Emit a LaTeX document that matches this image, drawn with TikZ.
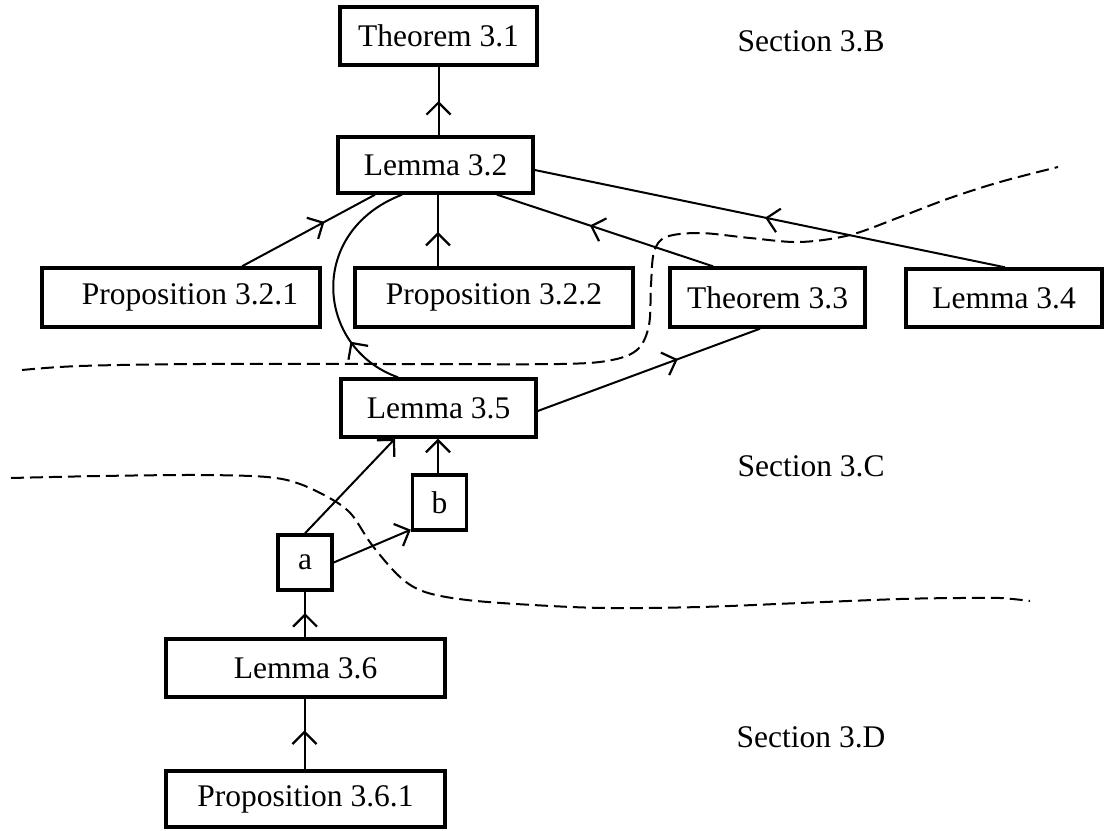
\documentclass[tikz,border=0pt]{standalone}
\usepackage{fontspec}
\setmainfont{Liberation Serif}
\usetikzlibrary{arrows.meta,calc,decorations.markings}
\begin{document}
\begin{tikzpicture}[x=0.5pt,y=-0.5pt,
  box/.style={draw, line width=1.7pt, inner sep=0pt, font=\fontsize{15.75}{18}\selectfont},
  lbl/.style={inner sep=0pt, font=\fontsize{15.75}{18}\selectfont},
  conn/.style={line width=1pt},
  barb/.tip={Straight Barb[length=6pt,width=12pt,line width=1.1pt]},
  midarrow/.style={conn, postaction={decorate, decoration={markings, mark=at position #1 with {\arrow{barb}}}}},
  endarrow/.style={conn, -barb},
  sep/.style={line width=1pt, dash pattern=on 6.5pt off 3pt}
]
\useasboundingbox (0,0) rectangle (1107,830);

% nodes
\node[box, minimum width=98.5pt, minimum height=29pt] (T31) at (438.5,36) {Theorem 3.1};
\node[box, minimum width=97.5pt, minimum height=28pt] (L32) at (435.5,165) {Lemma 3.2};
\node[box, minimum width=139pt, minimum height=29.5pt] (P321) at (181,297.5) {\hspace*{9pt}Proposition 3.2.1};
\node[box, minimum width=139pt, minimum height=29.5pt] (P322) at (494,297.5) {Proposition 3.2.2};
\node[box, minimum width=97.5pt, minimum height=29.5pt] (T33) at (767.5,297.5) {Theorem 3.3};
\node[box, minimum width=98pt, minimum height=29pt] (L34) at (1004,298) {Lemma 3.4};
\node[box, minimum width=97.5pt, minimum height=29pt] (L35) at (438.5,408) {Lemma 3.5};
\node[box, minimum width=27pt, minimum height=27.5pt] (b) at (439.5,502.5) {b};
\node[box, minimum width=27pt, minimum height=27.5pt] (a) at (305,562.5) {a};
\node[box, minimum width=139.5pt, minimum height=29pt] (L36) at (305.5,668) {Lemma 3.6};
\node[box, minimum width=139.5pt, minimum height=28pt] (P361) at (305.5,799) {Proposition 3.6.1};

\node[lbl] (SB) at (811,41) {Section 3.B};
\node[lbl] (SC) at (811,466) {Section 3.C};
\node[lbl] (SD) at (811,737) {Section 3.D};

% connectors
\draw[midarrow=0.5] (T31.south |- L32.north) -- (T31.south);
\draw[midarrow=0.62] ($(P321.north)+(61,0)$) -- ($(L32.south)+(-60.5,0)$);
\draw[midarrow=0.48] ($(P322.north)+(-56,0)$) coordinate (p2) -- (p2 |- L32.south);
\draw[midarrow=0.57] ($(T33.north)+(-54.5,0)$) -- ($(L32.south)+(61.5,0)$);
\draw[midarrow=0.51] ($(L34.north)+(1,0)$) -- ($(L32.east)+(0,5)$);
\draw[midarrow=0.63] ($(L35.east)+(0,3)$) -- ($(T33.south)+(-7.5,0)$);
\draw[midarrow=0.25] ($(L35.north)+(-40.5,0)$) .. controls +(-82,-29) and +(-96,37) .. ($(L32.south)+(-33.5,0)$);
\draw[endarrow] (a.north) -- ($(L35.south)+(-43.5,0)$);
\draw[endarrow] (a.east) -- ($(b.south west)+(0,-2)$);
\draw[endarrow] ($(b.north)+(-1.5,0)$) coordinate (bq) -- (bq |- L35.south);
\draw[midarrow=0.53] (a.south |- L36.north) -- (a.south);
\draw[midarrow=0.55] ($(P361.north)+(-1,0)$) coordinate (pq) -- (pq |- L36.south);

% dashed section boundaries
\draw[sep] plot[smooth, tension=0.55] coordinates {(22,370) (80,366) (200,364) (400,364) (560,364) (612,360) (638,349) (649,325) (651,285) (654,252) (666,237) (700,233) (750,238) (800,242) (850,235) (900,217) (950,198) (1000,182) (1058,167)};
\draw[sep] plot[smooth, tension=0.55] coordinates {(11,478) (100,476) (200,475) (267,477) (300,484) (333,500) (352,515) (372,545) (400,577) (425,592) (467,600) (533,605) (606,608) (700,607) (800,603) (900,599) (960,598) (1000,598) (1030,601)};
\end{tikzpicture}
\end{document}
